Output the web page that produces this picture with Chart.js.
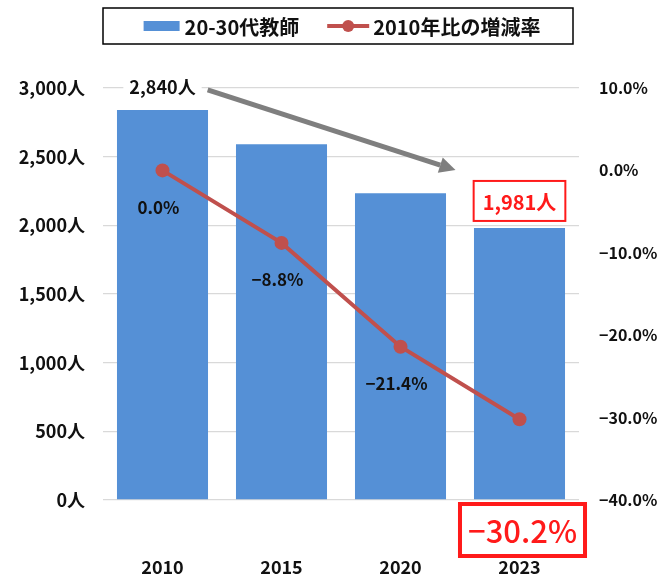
<!DOCTYPE html>
<html>
<head>
<meta charset="utf-8">
<script src="https://cdn.jsdelivr.net/npm/chart.js@4"></script>
<style>
  html, body { margin: 0; padding: 0; background: #fff; }
  #wrap { width: 660px; height: 577px; }
</style>
</head>
<body>
<div id="wrap"><canvas id="teacherChart" width="660" height="577"></canvas></div>
<script>
const years = ['2010', '2015', '2020', '2023'];
const teachers = [2840, 2590, 2233, 1981];
const changeRate = [0.0, -8.8, -21.4, -30.2];
const leftTicks = [0, 500, 1000, 1500, 2000, 2500, 3000];
const rightTicks = [-40, -30, -20, -10, 0, 10];

const FONT = '"Noto Sans CJK JP", "Noto Sans", sans-serif';
const BLUE = '#5590d6';
const RED = '#c0504d';
const MINUS = '\u2212';

const fmtPct = v => (v < 0 ? MINUS : '') + Math.abs(v).toFixed(1) + '%';
const fmtPeople = v => v.toLocaleString('en-US') + '人';

// draws legend, data labels, the boxed callouts and the grey arrow
const overlay = {
    id: 'overlay',
    afterDatasetsDraw(chart) {
        const ctx = chart.ctx;
        const area = chart.chartArea;
        const bars = chart.getDatasetMeta(1).data;
        const points = chart.getDatasetMeta(0).data;

        ctx.save();
        ctx.textAlign = 'center';
        ctx.textBaseline = 'middle';

        // line labels under each point (last one is in the red box)
        ctx.fillStyle = '#111';
        ctx.font = 'bold 17px ' + FONT;
        for (let i = 0; i < 3; i++) {
            ctx.fillText(fmtPct(changeRate[i]), points[i].x - 4, points[i].y + 37);
        }

        // first bar value with white background
        const first = bars[0];
        ctx.font = 'bold 18px ' + FONT;
        const t1 = fmtPeople(teachers[0]);
        const w1 = ctx.measureText(t1).width;
        const y1 = first.y - 23;
        ctx.fillStyle = '#fff';
        ctx.fillRect(first.x - w1 / 2 - 6, y1 - 11, w1 + 12, 22);
        ctx.fillStyle = '#111';
        ctx.fillText(t1, first.x, y1);

        // last bar value in red box
        const last = bars[3];
        ctx.font = 'bold 20px ' + FONT;
        const t2 = fmtPeople(teachers[3]);
        const w2 = ctx.measureText(t2).width;
        const y2 = last.y - 27;
        ctx.fillStyle = '#fff';
        ctx.fillRect(last.x - w2 / 2 - 9, y2 - 20, w2 + 18, 40);
        ctx.strokeStyle = '#ff1a1a';
        ctx.lineWidth = 2;
        ctx.strokeRect(last.x - w2 / 2 - 9, y2 - 20, w2 + 18, 40);
        ctx.fillStyle = '#ff1a1a';
        ctx.fillText(t2, last.x, y2 + 1);

        // last rate in thick red box below the axis
        ctx.font = '500 31px ' + FONT;
        const t3 = fmtPct(changeRate[3]);
        const w3 = ctx.measureText(t3).width;
        const cx3 = last.x + 3;
        const cy3 = area.bottom + 30;
        ctx.fillStyle = '#fff';
        ctx.fillRect(cx3 - w3 / 2 - 8, cy3 - 26, w3 + 16, 52);
        ctx.strokeStyle = '#ff1a1a';
        ctx.lineWidth = 4;
        ctx.strokeRect(cx3 - w3 / 2 - 8, cy3 - 26, w3 + 16, 52);
        ctx.fillStyle = '#ff1a1a';
        ctx.fillText(t3, cx3, cy3 + 1);

        // grey arrow from the 2010 value towards the 2023 value
        const sx = first.x + w1 / 2 + 12, sy = y1 + 3;
        const ex = last.x - 64, ey = y2 - 31;
        const ang = Math.atan2(ey - sy, ex - sx);
        const hx = ex - 16 * Math.cos(ang), hy = ey - 16 * Math.sin(ang);
        ctx.strokeStyle = '#7f7f7f';
        ctx.fillStyle = '#7f7f7f';
        ctx.lineWidth = 5;
        ctx.beginPath();
        ctx.moveTo(sx, sy);
        ctx.lineTo(hx, hy);
        ctx.stroke();
        ctx.beginPath();
        ctx.moveTo(ex, ey);
        ctx.lineTo(hx + 8 * Math.sin(ang), hy - 8 * Math.cos(ang));
        ctx.lineTo(hx - 8 * Math.sin(ang), hy + 8 * Math.cos(ang));
        ctx.closePath();
        ctx.fill();

        // legend box
        const bx = area.left, by = 8, bw = 470, bh = 36;
        ctx.strokeStyle = '#000';
        ctx.lineWidth = 1.5;
        ctx.strokeRect(bx, by, bw, bh);
        ctx.font = 'bold 20px ' + FONT;
        ctx.textAlign = 'left';
        const lab1 = '20-30代教師', lab2 = '2010年比の増減率';
        const lw1 = ctx.measureText(lab1).width, lw2 = ctx.measureText(lab2).width;
        const total = 36 + 5 + lw1 + 28 + 42 + 4 + lw2;
        let x = bx + (bw - total) / 2 + 4;
        const my = by + bh / 2;
        ctx.fillStyle = BLUE;
        ctx.fillRect(x, my - 5, 36, 10);
        x += 41;
        ctx.fillStyle = '#111';
        ctx.fillText(lab1, x, my + 1);
        x += lw1 + 28;
        ctx.strokeStyle = RED;
        ctx.lineWidth = 4;
        ctx.beginPath();
        ctx.moveTo(x, my);
        ctx.lineTo(x + 42, my);
        ctx.stroke();
        ctx.fillStyle = RED;
        ctx.beginPath();
        ctx.arc(x + 21, my, 6, 0, Math.PI * 2);
        ctx.fill();
        x += 46;
        ctx.fillStyle = '#111';
        ctx.fillText(lab2, x, my + 1);

        ctx.restore();
    }
};

new Chart(document.getElementById('teacherChart'), {
    data: {
        labels: years,
        datasets: [
            {
                type: 'line',
                label: '2010年比の増減率',
                data: changeRate,
                yAxisID: 'y1',
                borderColor: RED,
                backgroundColor: RED,
                borderWidth: 4,
                pointRadius: 7,
                pointHoverRadius: 7,
                pointBorderWidth: 0,
                order: 0
            },
            {
                type: 'bar',
                label: '20-30代教師',
                data: teachers,
                yAxisID: 'y',
                backgroundColor: BLUE,
                barPercentage: 0.765,
                categoryPercentage: 1.0,
                order: 1
            }
        ]
    },
    options: {
        responsive: false,
        animation: false,
        layout: { padding: { top: 88, left: 0, right: 0, bottom: 0 } },
        plugins: {
            legend: { display: false },
            tooltip: { enabled: false }
        },
        scales: {
            x: {
                grid: { display: false, drawTicks: false },
                border: { display: false },
                ticks: {
                    color: '#111',
                    padding: 56,
                    font: { family: FONT, size: 18, weight: 'bold' }
                },
                afterFit(scale) { scale.height = 77; }
            },
            y: {
                position: 'left',
                min: 0,
                max: 3000,
                afterBuildTicks(scale) { scale.ticks = leftTicks.map(v => ({ value: v })); },
                grid: { color: '#d9d9d9', lineWidth: 1.3, drawTicks: false },
                border: { display: false },
                ticks: {
                    color: '#111',
                    padding: 18,
                    font: { family: FONT, size: 18, weight: 'bold' },
                    callback: v => fmtPeople(v)
                },
                afterFit(scale) { scale.width = 103; }
            },
            y1: {
                position: 'right',
                min: -40,
                max: 10,
                afterBuildTicks(scale) { scale.ticks = rightTicks.map(v => ({ value: v })); },
                grid: { display: false, drawTicks: false },
                border: { display: false },
                ticks: {
                    color: '#111',
                    padding: 20,
                    font: { family: FONT, size: 16, weight: 'bold' },
                    callback: v => fmtPct(v)
                },
                afterFit(scale) { scale.width = 81; }
            }
        }
    },
    plugins: [overlay]
});
</script>
</body>
</html>
